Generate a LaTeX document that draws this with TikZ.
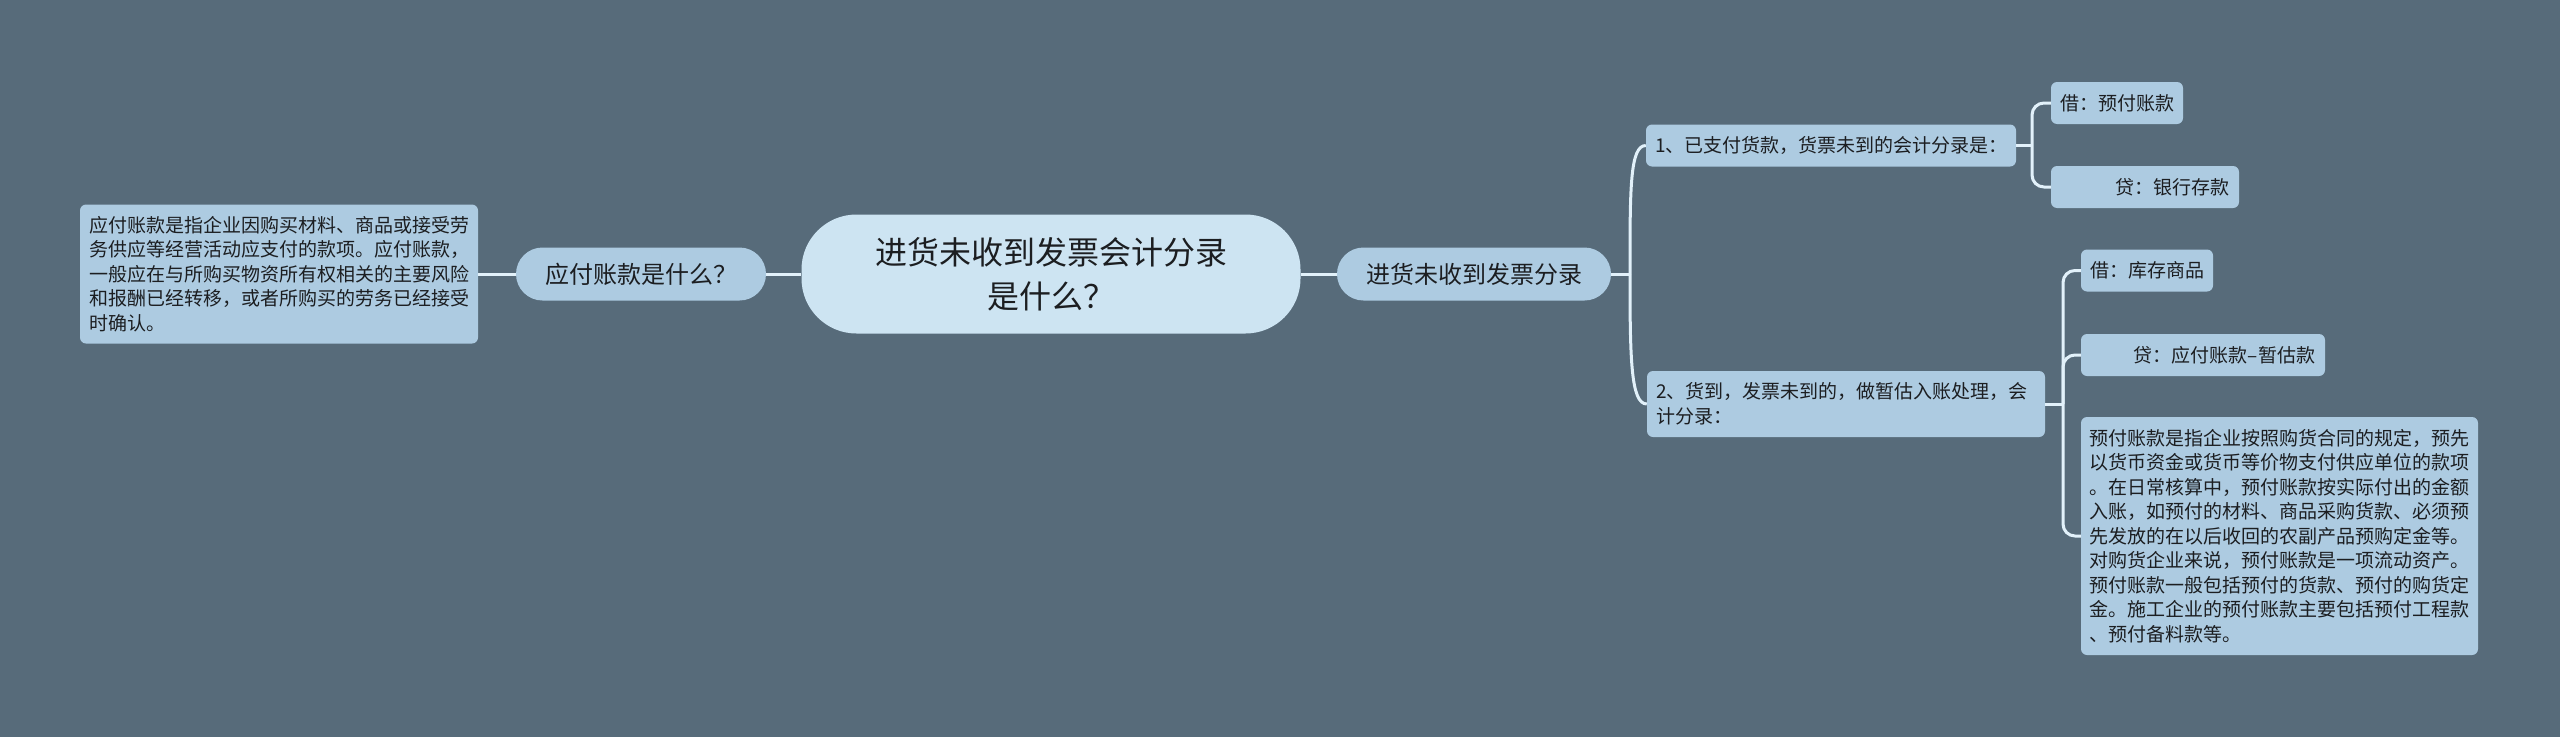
\documentclass[tikz,border=0pt]{standalone}
\usepackage{fontspec}
\setmainfont{Noto Sans CJK SC}
\definecolor{slate}{RGB}{87,107,122}
\definecolor{leafblue}{RGB}{173,203,225}
\definecolor{rootblue}{RGB}{205,228,242}
\definecolor{wirecol}{RGB}{226,241,250}
\definecolor{ink}{RGB}{28,30,33}
\tikzset{every node/.style={text=ink, inner sep=0pt},
  rootnode/.style={fill=rootblue, rounded corners=55pt, minimum width=499pt, minimum height=119pt, align=center, font=\fontsize{32}{44}\selectfont},
  topic/.style={fill=leafblue, rounded corners=26.5pt, minimum height=53pt, font=\fontsize{24}{30}\selectfont},
  leaf/.style={fill=leafblue, rounded corners=6pt, minimum height=42pt, font=\fontsize{19}{24.5}\selectfont},
  branch/.style={draw=wirecol, line width=3pt}}

\begin{document}
\begin{tikzpicture}[x=1pt,y=-1pt]
  \fill[slate] (0,0) rectangle (2560,737);
  \useasboundingbox (0,0) rectangle (2560,737);

  \node[rootnode] (root) at (1051,274) {进货未收到发票会计分录\\是什么？};
  \node[topic, minimum width=250pt] (ask) at (641,274) {应付账款是什么？};
  \node[topic, minimum width=274pt] (entry) at (1474,274) {进货未收到发票分录};
  \node[leaf, text width=380pt, inner xsep=9pt, minimum height=139pt, align=left] (define) at (279,274)
   {应付账款是指企业因购买材料、商品或接受劳\\务供应等经营活动应支付的款项。应付账款，\\一般应在与所购买物资所有权相关的主要风险\\和报酬已经转移，或者所购买的劳务已经接受\\时确认。};
  \node[leaf, text width=352pt, inner xsep=9pt, align=left] (case1) at (1831,145.5) {1、已支付货款，货票未到的会计分录是：};
  \node[leaf, minimum width=132pt] (debit1) at (2117,103) {借：预付账款};
  \node[leaf, text width=168pt, inner xsep=10pt, align=right] (credit1) at (2145,187) {贷：银行存款};
  \node[leaf, text width=380pt, inner xsep=9pt, minimum height=66pt, align=left] (case2) at (1846,404)
   {2、货到，发票未到的，做暂估入账处理，会\\计分录：};
  \node[leaf, minimum width=132pt] (debit2) at (2147,270.5) {借：库存商品};
  \node[leaf, text width=224pt, inner xsep=10pt, align=right] (credit2) at (2203,355) {贷：应付账款–暂估款};
  \node[leaf, text width=380pt, inner xsep=8.5pt, minimum height=238pt, align=left] (prepaid) at (2279.5,536)
   {预付账款是指企业按照购货合同的规定，预先\\以货币资金或货币等价物支付供应单位的款项\\。在日常核算中，预付账款按实际付出的金额\\入账，如预付的材料、商品采购货款、必须预\\先发放的在以后收回的农副产品预购定金等。\\对购货企业来说，预付账款是一项流动资产。\\预付账款一般包括预付的货款、预付的购货定\\金。施工企业的预付账款主要包括预付工程款\\、预付备料款等。};

  \coordinate (fork) at (1630,274);
  \coordinate (fork1) at (2032,145.5);
  \coordinate (fork2) at (2063,404);

  \draw[branch] (define) -- (ask);
  \draw[branch] (ask) -- (root);
  \draw[branch] (root) -- (entry);
  \draw[branch] (entry.east) -- (fork);
  \draw[branch] (fork) .. controls +(0,-85) and +(-16,0) .. (case1.west);
  \draw[branch] (fork) .. controls +(0,85) and +(-16,0) .. (case2.west);
  \draw[branch] (case1.east) -- (fork1);
  \draw[branch, rounded corners=12pt] (debit1.west) -| (fork1) |- (credit1.west);
  \draw[branch] (case2.east) -- (fork2);
  \draw[branch, rounded corners=12pt] (debit2.west) -| (fork2) |- (prepaid.west);
  \draw[branch, rounded corners=12pt] (fork2) |- (credit2.west);
\end{tikzpicture}
\end{document}
